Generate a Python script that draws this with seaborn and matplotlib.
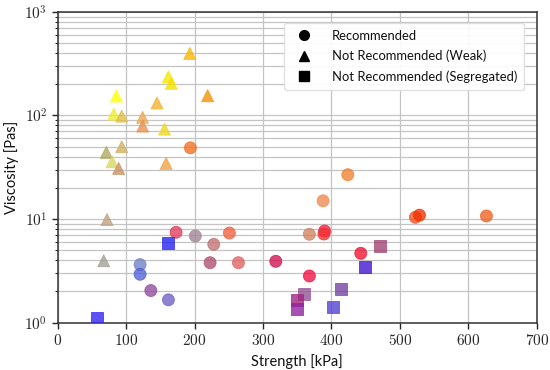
import numpy as np
import pandas as pd
import matplotlib
matplotlib.use("Agg")
from matplotlib import pyplot as plt
from matplotlib.lines import Line2D
from matplotlib.ticker import FuncFormatter, LogLocator, MultipleLocator
import seaborn as sns

# strength [kPa], viscosity [Pas], class of each sample
strength = [193.8, 172.9, 201.0, 120.3, 120.3, 136.0, 161.7, 250.8, 228.0, 222.6, 264.0,
            318.6, 367.7, 367.7, 423.8, 387.7, 390.0, 389.0, 522.6, 528.5, 442.8, 626.4,
            192.9, 161.7, 166.0, 85.7, 219.0, 145.0, 81.8, 93.5, 124.0, 124.0, 156.0,
            93.5, 71.0, 79.4, 158.3, 89.0, 72.0, 67.2,
            161.7, 57.0, 360.0, 349.7, 349.7, 471.0, 449.0, 414.4, 402.0]
viscosity = [48.7, 7.45, 6.86, 3.63, 2.93, 2.04, 1.66, 7.33, 5.7, 3.79, 3.79,
             3.91, 2.82, 7.13, 26.8, 15.0, 7.67, 7.17, 10.4, 10.9, 4.67, 10.7,
             397, 236, 204, 154, 155, 132, 103, 98.6, 96, 79, 73.8,
             49.9, 44, 35.7, 34.5, 30.8, 9.9, 3.96,
             5.87, 1.12, 1.89, 1.66, 1.35, 5.46, 3.47, 2.1, 1.43]
group = ["Recommended"] * 22 + ["Not Recommended (Weak)"] * 18 + ["Not Recommended (Segregated)"] * 9

# colour of each sample, same order as above
point_colors = ["#f07020", "#e03c5c", "#a08494", "#7080c4", "#5060d4", "#904c9c", "#7060c4",
                "#f06040", "#c07070", "#b05070", "#e06060", "#d01050", "#f01040", "#d08060",
                "#f08030", "#f08850", "#f02040", "#f03030", "#f05020", "#f03000", "#f01030",
                "#f06020",
                "#f5b800", "#f5e800", "#f5e000", "#ffff00", "#f59000", "#f5b030", "#eeee30",
                "#e0c040", "#e8a850", "#e89050", "#f0d820", "#d0b060", "#b0a860", "#d8d860",
                "#f0a040", "#c89060", "#c0a080", "#a0a090",
                "#2020f0", "#3020f0", "#905090", "#a02080", "#9020a0", "#a04070", "#4010d0",
                "#7040a0", "#5040d0"]

markers = {"Recommended": "o", "Not Recommended (Weak)": "^", "Not Recommended (Segregated)": "s"}

df = pd.DataFrame({"strength": strength, "viscosity": viscosity, "group": group,
                   "color": point_colors})

sns.set_theme(style="ticks")
plt.rcParams["font.family"] = ["Lato", "DejaVu Sans"]
plt.rcParams["mathtext.fontset"] = "cm"

fig = plt.figure(figsize=(5.5, 3.7), dpi=100)
ax = fig.add_axes([0.105, 0.128, 0.871, 0.84])

sns.scatterplot(data=df, x="strength", y="viscosity", style="group", markers=markers,
                hue="color", palette={c: c for c in point_colors}, legend=False,
                s=75, alpha=0.78, linewidth=0.6, edgecolor="face", ax=ax, zorder=3)

ax.set_yscale("log")
ax.set_xlim(0, 700)
ax.set_ylim(1, 1000)
ax.xaxis.set_major_locator(MultipleLocator(100))
ax.yaxis.set_major_locator(LogLocator(base=10))
ax.yaxis.set_minor_locator(LogLocator(base=10, subs=np.arange(2, 10)))
ax.xaxis.set_major_formatter(FuncFormatter(lambda v, p: "$%d$" % v))
ax.yaxis.set_major_formatter(FuncFormatter(lambda v, p: "$10^{%d}$" % round(np.log10(v))))
ax.tick_params(axis="both", which="major", labelsize=11, direction="out", length=4, width=1)
ax.tick_params(axis="y", which="minor", direction="out", length=2, width=0.8)

ax.grid(True, which="major", color="#c4c4c4", linewidth=0.9, zorder=0)
ax.grid(True, which="minor", axis="y", color="#c4c4c4", linewidth=0.9, zorder=0)
ax.set_axisbelow(True)
for sp in ax.spines.values():
    sp.set_color("#333333")
    sp.set_linewidth(1.1)

ax.set_xlabel("Strength [kPa]", fontsize=10.5, color="#111111")
ax.set_ylabel("Viscosity [Pas]", fontsize=10.5, color="#111111")

handles = [Line2D([], [], marker=markers[g], color="black", linestyle="none", markersize=7, label=g)
           for g in markers]
leg = ax.legend(handles=handles, loc="upper right", fontsize=9.4, frameon=True, fancybox=True,
                borderpad=0.55, handletextpad=1.1, labelspacing=0.6, borderaxespad=0.6,
                bbox_to_anchor=(0.99, 0.99))
for t in leg.get_texts():
    t.set_color("#111111")
leg.get_frame().set_edgecolor("#dddddd")
leg.get_frame().set_alpha(0.9)

fig.savefig("out.png", dpi=100)
